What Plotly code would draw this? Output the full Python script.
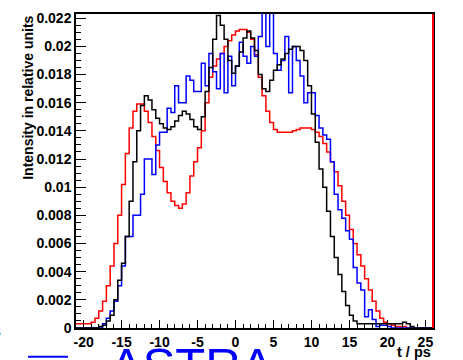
import numpy as np
import plotly.graph_objects as go

# Time axis binning (ps)
t_min, t_max, bin_w = -21.0, 26.0, 0.5
edges = np.arange(t_min, t_max + bin_w / 2, bin_w)

# Bin contents, one value per 0.5 ps bin starting at -21 ps
red_vals = [
    0.0003, 0.0003, 0.0003, 0.0003, 0.0004, 0.0007, 0.0012, 0.0019, 0.0030, 0.0044,  # -21 .. -16.5
    0.0060, 0.0080, 0.0102, 0.0124, 0.0142, 0.0154, 0.0159, 0.0159, 0.0154, 0.0146,  # -16 .. -11.5
    0.0136, 0.0126, 0.0114, 0.0104, 0.0096, 0.0090, 0.0087, 0.0085, 0.0088, 0.0096,  # -11 .. -6.5
    0.0108, 0.0118, 0.0128, 0.0140, 0.0160, 0.0178, 0.0186, 0.0191, 0.0195, 0.0200,  # -6 .. -1.5
    0.0204, 0.0208, 0.0211, 0.0212, 0.0212, 0.0210, 0.0205, 0.0194, 0.0178, 0.0165,  # -1 .. 3.5
    0.0154, 0.0146, 0.0141, 0.0139, 0.0139, 0.0139, 0.0139, 0.0140, 0.0141, 0.0142,  # 4 .. 8.5
    0.0142, 0.0142, 0.0141, 0.0139, 0.0136, 0.0131, 0.0125, 0.0118, 0.0111, 0.0101,  # 9 .. 13.5
    0.0090, 0.0080, 0.0070, 0.0060, 0.0052, 0.0044, 0.0035, 0.0027, 0.0019, 0.0012,  # 14 .. 18.5
    0.0007, 0.0004, 0.0003, 0.0002, 0.0001, 0.0001, 0.0001, 0.0000, 0.0000, 0.0000,  # 19 .. 23.5
    0.0000, 0.0000, 0.0000, 0.0000,                                                  # 24 .. 25.5
]

black_vals = [
    0.0000, 0.0000, 0.0000, 0.0000, 0.0000, 0.0000, 0.0001, 0.0002, 0.0005, 0.0009,  # -21 .. -16.5
    0.0020, 0.0034, 0.0046, 0.0065, 0.0090, 0.0118, 0.0140, 0.0158, 0.0165, 0.0162,  # -16 .. -11.5
    0.0155, 0.0149, 0.0145, 0.0142, 0.0141, 0.0143, 0.0147, 0.0151, 0.0154, 0.0152,  # -11 .. -6.5
    0.0148, 0.0143, 0.0141, 0.0150, 0.0168, 0.0185, 0.0205, 0.0222, 0.0215, 0.0205,  # -6 .. -1.5
    0.0190, 0.0181, 0.0186, 0.0196, 0.0206, 0.0211, 0.0206, 0.0197, 0.0180, 0.0170,  # -1 .. 3.5
    0.0168, 0.0176, 0.0183, 0.0187, 0.0191, 0.0195, 0.0198, 0.0200, 0.0200, 0.0197,  # 4 .. 8.5
    0.0190, 0.0172, 0.0152, 0.0132, 0.0113, 0.0100, 0.0083, 0.0065, 0.0050, 0.0038,  # 9 .. 13.5
    0.0026, 0.0016, 0.0009, 0.0005, 0.0003, 0.0003, 0.0003, 0.0003, 0.0003, 0.0003,  # 14 .. 18.5
    0.0003, 0.0003, 0.0003, 0.0003, 0.0003, 0.0003, 0.0004, 0.0003, 0.0001, 0.0000,  # 19 .. 23.5
    0.0000, 0.0000, 0.0000, 0.0000,                                                  # 24 .. 25.5
]

blue_vals = [
    0.0000, 0.0000, 0.0000, 0.0000, 0.0000, 0.0000, 0.0000, 0.0003, 0.0007, 0.0012,  # -21 .. -16.5
    0.0019, 0.0030, 0.0044, 0.0065, 0.0065, 0.0080, 0.0080, 0.0095, 0.0120, 0.0120,  # -16 .. -11.5
    0.0109, 0.0130, 0.0139, 0.0139, 0.0156, 0.0153, 0.0172, 0.0160, 0.0160, 0.0179,  # -11 .. -6.5
    0.0176, 0.0168, 0.0168, 0.0188, 0.0172, 0.0195, 0.0182, 0.0170, 0.0195, 0.0167,  # -6 .. -1.5
    0.0193, 0.0172, 0.0186, 0.0203, 0.0193, 0.0188, 0.0200, 0.0193, 0.0207, 0.0240,  # -1 .. 3.5
    0.0200, 0.0240, 0.0195, 0.0183, 0.0190, 0.0207, 0.0167, 0.0200, 0.0190, 0.0179,  # 4 .. 8.5
    0.0160, 0.0167, 0.0167, 0.0151, 0.0142, 0.0137, 0.0134, 0.0118, 0.0095, 0.0084,  # 9 .. 13.5
    0.0078, 0.0069, 0.0063, 0.0043, 0.0032, 0.0027, 0.0008, 0.0013, 0.0006, 0.0001,  # 14 .. 18.5
    0.0002, 0.0002, 0.0001, 0.0000, 0.0000, 0.0000, 0.0000, 0.0000, 0.0000, 0.0000,  # 19 .. 23.5
    0.0000, 0.0000, 0.0000, 0.0000,                                                  # 24 .. 25.5
]

x_tick_vals = [-20, -15, -10, -5, 0, 5, 10, 15, 20, 25]
x_tick_text = ["-20", "-15", "-10", "-5", "0", "5", "10", "15", "20", "25"]
y_tick_vals = [0, 0.002, 0.004, 0.006, 0.008, 0.010, 0.012, 0.014, 0.016, 0.018, 0.020, 0.022]
y_tick_text = ["0", "0.002", "0.004", "0.006", "0.008", "0.01", "0.012",
               "0.014", "0.016", "0.018", "0.02", "0.022"]

y_top = 0.0223
font_family = "Liberation Sans, Arial, sans-serif"


def step_trace(vals, color, name):
    ys = list(vals) + [vals[-1]]
    return go.Scatter(
        x=edges, y=ys, mode="lines", line_shape="hv",
        line=dict(color=color, width=1.5), name=name, showlegend=False,
    )


fig = go.Figure()
fig.add_trace(step_trace(red_vals, "#ff0000", "red"))
fig.add_trace(step_trace(blue_vals, "#0000ff", "ASTRA"))
fig.add_trace(step_trace(black_vals, "#000000", "black"))

tick_font = dict(family=font_family, size=14, color="black", weight="bold")

fig.update_layout(
    width=463, height=360,
    margin=dict(l=76, r=30, t=10, b=32),
    paper_bgcolor="white", plot_bgcolor="white",
    xaxis=dict(
        range=[t_min, t_max], showgrid=False, zeroline=False,
        showline=True, linecolor="black", linewidth=1.5, mirror=True,
        ticks="inside", ticklen=8, tickwidth=1, tickcolor="black",
        tickvals=x_tick_vals, ticktext=x_tick_text, tickfont=tick_font,
        minor=dict(ticks="inside", dtick=1, ticklen=4, tickcolor="black", showgrid=False),
    ),
    yaxis=dict(
        range=[0, y_top], showgrid=False, zeroline=False,
        showline=True, linecolor="black", linewidth=1.5, mirror=True,
        ticks="inside", ticklen=10, tickwidth=1, tickcolor="black",
        tickvals=y_tick_vals, ticktext=y_tick_text, tickfont=tick_font,
        minor=dict(ticks="inside", dtick=0.0005, tick0=0, ticklen=5, tickcolor="black", showgrid=False),
    ),
    showlegend=False,
)

# red right-hand frame edge
fig.add_shape(type="line", xref="paper", yref="paper", x0=1, x1=1, y0=0, y1=1,
              line=dict(color="#ff0000", width=2))

# axis titles
fig.add_annotation(text="Intensity in relative units", xref="paper", yref="paper",
                   x=-0.135, y=1.0, xanchor="center", yanchor="top", textangle=-90,
                   showarrow=False, font=dict(family=font_family, size=14, color="black", weight="bold"))
fig.add_annotation(text="t / ps", xref="paper", yref="paper",
                   x=1.0, y=-0.078, xanchor="right", yanchor="middle",
                   showarrow=False, font=dict(family=font_family, size=14.5, color="black", weight="bold"))

# legend entry below the frame
fig.add_shape(type="line", xref="paper", yref="paper", x0=-0.1345, x1=-0.0224,
              y0=-0.0912, y1=-0.0912, line=dict(color="#0000ff", width=2))
fig.add_annotation(text="ASTRA", xref="paper", yref="paper",
                   x=(108 - 76) / 357, y=(328 - 336) / 318, xanchor="left", yanchor="top",
                   showarrow=False, font=dict(family=font_family, size=49, color="#0000ff"))
fig.add_annotation(text="s", xref="paper", yref="paper",
                   x=(3 - 76) / 357, y=(328 - 331) / 318, xanchor="right", yanchor="middle",
                   showarrow=False, font=dict(family=font_family, size=14, color="black", weight="bold"))

fig.write_html("out.html")
